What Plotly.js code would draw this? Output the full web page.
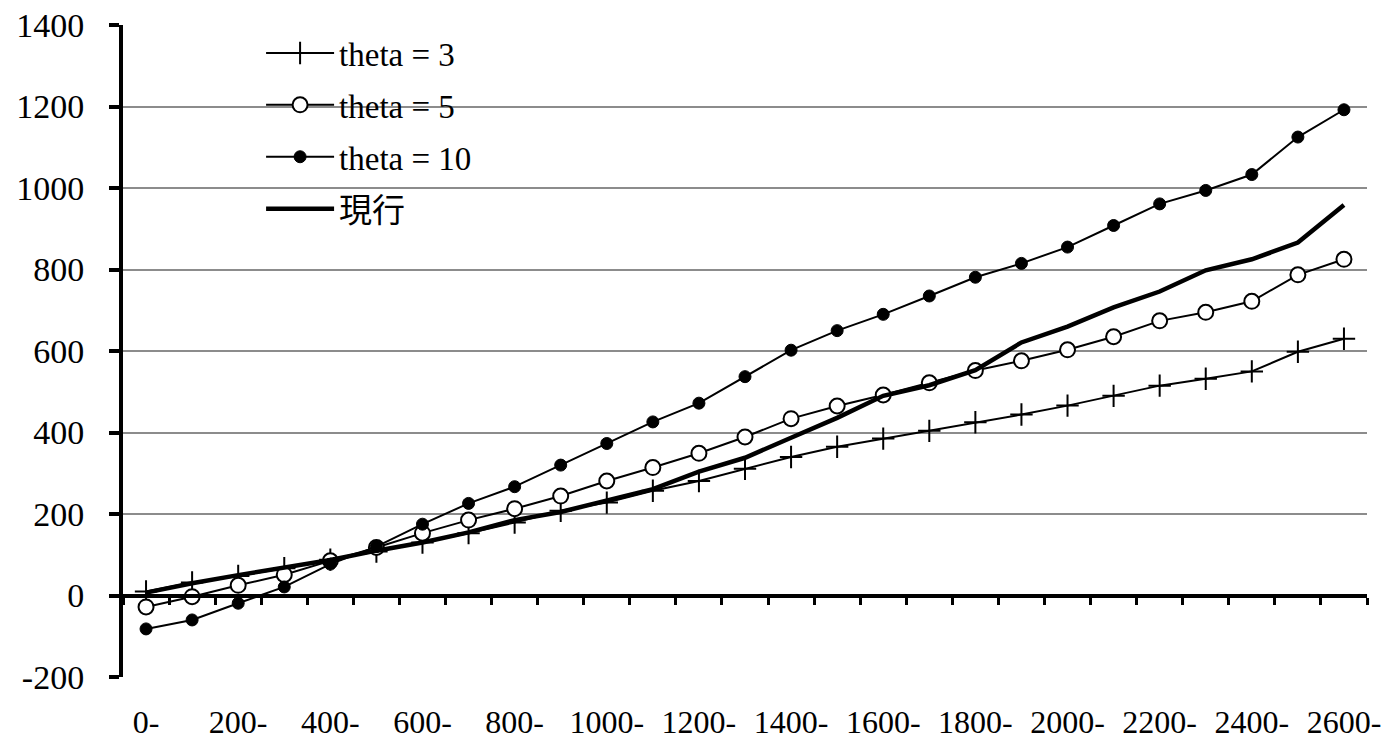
<!DOCTYPE html>
<html>
<head>
<meta charset="utf-8">
<script src="https://cdn.plot.ly/plotly-3.0.1.min.js"></script>
<style>
  html, body { margin: 0; padding: 0; background: #fff; }
  #chart { width: 1386px; height: 742px; }
</style>
</head>
<body>
<div id="chart"></div>
<script>
// Categories (lower bound of each 100-wide bin)
const categories = ['0-','100-','200-','300-','400-','500-','600-','700-','800-','900-',
  '1000-','1100-','1200-','1300-','1400-','1500-','1600-','1700-','1800-','1900-',
  '2000-','2100-','2200-','2300-','2400-','2500-','2600-'];
// Tick labels: every other category is labelled
const tickLabels = ['0-','','200-','','400-','','600-','','800-','',
  '1000-','','1200-','','1400-','','1600-','','1800-','',
  '2000-','','2200-','','2400-','','2600-'];
const yTickValues = [-200, 0, 200, 400, 600, 800, 1000, 1200, 1400];
const yTickLabels = ['-200', '0', '200', '400', '600', '800', '1000', '1200', '1400'];

const theta3  = [10, 32, 48, 67, 88, 108, 130, 153, 179, 208, 228, 257, 281, 311, 340, 365, 385, 404, 425, 444, 466, 490, 515, 532, 550, 598, 630];
const theta5  = [-28, -3, 25, 51, 85, 118, 153, 185, 213, 244, 281, 314, 349, 389, 434, 465, 492, 522, 552, 576, 603, 635, 674, 695, 722, 787, 825];
const theta10 = [-82, -60, -19, 21, 77, 120, 175, 226, 267, 320, 373, 426, 472, 537, 602, 650, 690, 735, 781, 815, 855, 908, 961, 994, 1033, 1125, 1192];
const current = [7, 30, 50, 68, 87, 110, 130, 155, 185, 205, 232, 261, 304, 338, 387, 436, 490, 516, 553, 621, 660, 707, 746, 798, 825, 866, 958];

const names = ['theta = 3', 'theta = 5', 'theta = 10', '現行'];

const serif = 'Liberation Serif, Times New Roman, Noto Sans CJK JP, serif';

const traces = [
  {
    x: categories, y: theta3, name: names[0], type: 'scatter', mode: 'lines+markers',
    line: {color: '#000', width: 2},
    marker: {symbol: 'cross-thin', size: 16, color: '#000', line: {color: '#000', width: 2}},
    legendgroup: 'a'
  },
  {
    x: categories, y: theta5, name: names[1], type: 'scatter', mode: 'lines+markers',
    line: {color: '#000', width: 2},
    marker: {symbol: 'circle', size: 15, color: '#fff', line: {color: '#000', width: 2}},
    legendgroup: 'b'
  },
  {
    x: categories, y: theta10, name: names[2], type: 'scatter', mode: 'lines+markers',
    line: {color: '#000', width: 2},
    marker: {symbol: 'circle', size: 12, color: '#000', line: {color: '#000', width: 1}},
    legendgroup: 'c'
  },
  {
    x: categories, y: current, name: names[3], type: 'scatter', mode: 'lines',
    line: {color: '#000', width: 4.5},
    legendgroup: 'd'
  }
];

const layout = {
  width: 1386, height: 742,
  margin: {l: 123, r: 19, t: 25, b: 65},
  paper_bgcolor: '#fff', plot_bgcolor: '#fff',
  showlegend: true,
  legend: {
    x: 0.111, y: 1.0, xanchor: 'left', yanchor: 'top',
    bgcolor: 'rgba(0,0,0,0)',
    font: {family: serif, size: 33, color: '#000'},
    itemwidth: 68,
    tracegroupgap: 6,
    itemsizing: 'trace'
  },
  xaxis: {
    type: 'category',
    categoryarray: categories,
    range: [-0.5, 26.5],
    anchor: 'free',
    position: 0.125,
    tickson: 'boundaries',
    tickvals: categories,
    ticktext: tickLabels,
    tickangle: 0,
    ticks: 'outside', ticklen: 7, tickwidth: 3, tickcolor: '#000',
    showline: true, linewidth: 4, linecolor: '#000',
    showgrid: false, zeroline: false,
    ticklabelstandoff: 97,
    tickfont: {family: serif, size: 32, color: '#000'}
  },
  yaxis: {
    range: [-200, 1400],
    tickvals: yTickValues,
    ticktext: yTickLabels,
    ticks: 'outside', ticklen: 10, tickwidth: 4, tickcolor: '#000',
    showline: true, linewidth: 4, linecolor: '#000',
    showgrid: true, gridcolor: '#8c8c8c', gridwidth: 2,
    zeroline: false,
    ticklabelstandoff: 18,
    tickfont: {family: serif, size: 34, color: '#000'}
  }
};

Plotly.newPlot('chart', traces, layout, {displayModeBar: false, staticPlot: true});
</script>
</body>
</html>
